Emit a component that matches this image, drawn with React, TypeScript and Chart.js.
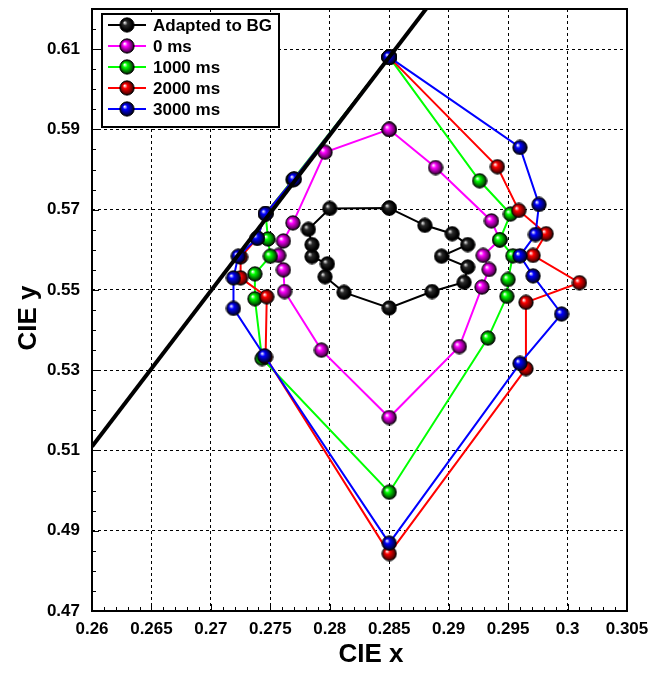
import React, { useEffect, useRef } from "react";
import { Chart, registerables } from "chart.js";

Chart.register(...registerables);

// ---- data ----
const xTickValues = [0.26, 0.265, 0.27, 0.275, 0.28, 0.285, 0.29, 0.295, 0.3, 0.305];
const yTickValues = [0.47, 0.49, 0.51, 0.53, 0.55, 0.57, 0.59, 0.61];

const seriesLabels = ["Adapted to BG", "0 ms", "1000 ms", "2000 ms", "3000 ms"];

const bgX = [0.285, 0.288, 0.2903, 0.2916, 0.2894, 0.2916, 0.2913, 0.2886, 0.285, 0.2812, 0.2796, 0.2798, 0.2785, 0.2785, 0.2782, 0.28];
const bgY = [0.5704, 0.5661, 0.564, 0.5613, 0.5584, 0.5557, 0.5519, 0.5496, 0.5455, 0.5494, 0.5533, 0.5565, 0.5583, 0.5613, 0.5651, 0.5703];

const ms0X = [0.285, 0.2889, 0.2936, 0.2943, 0.2929, 0.2934, 0.2928, 0.2909, 0.285, 0.2793, 0.2762, 0.2761, 0.2757, 0.2761, 0.2769, 0.2796];
const ms0Y = [0.59, 0.5805, 0.5672, 0.5625, 0.5586, 0.5551, 0.5507, 0.5359, 0.5182, 0.535, 0.5496, 0.555, 0.5586, 0.5622, 0.5667, 0.5843];

const ms1000X = [0.285, 0.2926, 0.2952, 0.2943, 0.2954, 0.295, 0.2949, 0.2933, 0.285, 0.2743, 0.2737, 0.2737, 0.275, 0.2748, 0.2746, 0.2769];
const ms1000Y = [0.608, 0.5772, 0.5689, 0.5625, 0.5585, 0.5526, 0.5484, 0.538, 0.4996, 0.5329, 0.5478, 0.554, 0.5584, 0.5627, 0.569, 0.5775];

const ms2000X = [0.285, 0.2941, 0.2959, 0.2982, 0.2971, 0.301, 0.2965, 0.2965, 0.285, 0.2746, 0.2747, 0.2725, 0.2725, 0.2739, 0.2746, 0.277];
const ms2000Y = [0.608, 0.5807, 0.5698, 0.564, 0.5586, 0.5518, 0.5469, 0.5304, 0.4843, 0.5333, 0.5483, 0.553, 0.5582, 0.5629, 0.569, 0.5776];

const ms3000X = [0.285, 0.296, 0.2976, 0.2973, 0.296, 0.2971, 0.2995, 0.296, 0.285, 0.2745, 0.2719, 0.2719, 0.2723, 0.2739, 0.2746, 0.277];
const ms3000Y = [0.608, 0.5855, 0.5713, 0.5638, 0.5585, 0.5535, 0.544, 0.5317, 0.4869, 0.5336, 0.5454, 0.553, 0.5584, 0.5629, 0.569, 0.5776];

const locusX = [0.26, 0.29];
const locusY = [0.511, 0.6274];

// ---- styles ----
const colors = ["#000000", "#ff00ff", "#00ff00", "#ff0000", "#0000ff"];
const darkColors = ["#000000", "#6a006a", "#005a00", "#6a0000", "#00005a"];
const midColors = ["#2a2a2a", "#ff00ff", "#00ff00", "#ff0000", "#0000ff"];
const highlight = ["#e8e8e8", "#ffffff", "#ffffff", "#ffffff", "#ffffff"];

const FONT = '"Liberation Sans", Arial, sans-serif';

function makeSphere(i: number): HTMLCanvasElement {
  const s = 16;
  const c = document.createElement("canvas");
  c.width = s;
  c.height = s;
  const ctx = c.getContext("2d")!;
  const cx = s / 2, cy = s / 2, r = 7.2;
  const g = ctx.createRadialGradient(cx - 2.5, cy - 2.5, 0.3, cx, cy, r);
  g.addColorStop(0, highlight[i]);
  g.addColorStop(0.3, midColors[i]);
  g.addColorStop(0.8, darkColors[i]);
  g.addColorStop(1, "#000000");
  ctx.beginPath();
  ctx.arc(cx, cy, r, 0, Math.PI * 2);
  ctx.fillStyle = g;
  ctx.fill();
  ctx.lineWidth = 1;
  ctx.strokeStyle = "rgba(0,0,0,0.85)";
  ctx.stroke();
  return c;
}

function closed(xs: number[], ys: number[]) {
  const pts = xs.map((x, k) => ({ x, y: ys[k] }));
  pts.push({ x: xs[0], y: ys[0] });
  return pts;
}

const fmt = (v: number) => String(Number(v.toFixed(3)));

export default function App() {
  const ref = useRef<HTMLCanvasElement>(null);

  useEffect(() => {
    const spheres = colors.map((_, i) => makeSphere(i));
    const seriesX = [bgX, ms0X, ms1000X, ms2000X, ms3000X];
    const seriesY = [bgY, ms0Y, ms1000Y, ms2000Y, ms3000Y];

    const datasets: any[] = seriesLabels.map((label, i) => ({
      label,
      data: closed(seriesX[i], seriesY[i]),
      showLine: true,
      borderColor: colors[i],
      borderWidth: 2,
      pointStyle: spheres[i],
      pointRadius: 7,
      pointHoverRadius: 7,
      tension: 0,
      order: 5 - i,
    }));
    datasets.push({
      label: "",
      data: locusX.map((x, k) => ({ x, y: locusY[k] })),
      showLine: true,
      borderColor: "#000000",
      borderWidth: 4,
      pointRadius: 0,
      tension: 0,
      order: 0,
    });

    const framePlugin = {
      id: "frameAndExtras",
      afterDraw(chart: any) {
        const { ctx, chartArea: a, scales } = chart;
        const xs = scales.x, ys = scales.y;
        ctx.save();
        // minor / major ticks
        ctx.strokeStyle = "#000";
        ctx.lineWidth = 1;
        for (let k = 0; k <= 45; k++) {
          const v = 0.26 + k * 0.001;
          const px = Math.round(xs.getPixelForValue(v)) + 0.5;
          const len = k % 5 === 0 ? 7 : 4;
          ctx.beginPath();
          ctx.moveTo(px, a.bottom);
          ctx.lineTo(px, a.bottom - len);
          ctx.stroke();
        }
        for (let k = 0; k <= 30; k++) {
          const v = 0.47 + k * 0.005;
          const py = Math.round(ys.getPixelForValue(v)) + 0.5;
          const len = k % 4 === 0 ? 7 : 4;
          ctx.beginPath();
          ctx.moveTo(a.left, py);
          ctx.lineTo(a.left + len, py);
          ctx.stroke();
        }
        // frame
        ctx.lineWidth = 2;
        ctx.strokeRect(a.left, a.top, a.right - a.left, a.bottom - a.top);

        // legend
        const lx = 102, ly = 14, lw = 177, lh = 113;
        ctx.fillStyle = "#fff";
        ctx.fillRect(lx, ly, lw, lh);
        ctx.lineWidth = 2;
        ctx.strokeStyle = "#000";
        ctx.strokeRect(lx, ly, lw, lh);
        ctx.font = `bold 17px ${FONT}`;
        ctx.textBaseline = "middle";
        ctx.textAlign = "left";
        seriesLabels.forEach((label, i) => {
          const y = 25 + i * 21;
          ctx.strokeStyle = colors[i];
          ctx.lineWidth = 2;
          ctx.beginPath();
          ctx.moveTo(108, y);
          ctx.lineTo(146, y);
          ctx.stroke();
          ctx.drawImage(spheres[i], 127 - 8, y - 8);
          ctx.fillStyle = "#000";
          ctx.fillText(label, 153, y + 1);
        });

        // axis titles
        ctx.fillStyle = "#000";
        ctx.font = `bold 26px ${FONT}`;
        ctx.textAlign = "center";
        ctx.textBaseline = "middle";
        ctx.fillText("CIE x", 371, 655);
        ctx.save();
        ctx.translate(29, 318);
        ctx.rotate(-Math.PI / 2);
        ctx.fillText("CIE y", 0, 0);
        ctx.restore();
        ctx.restore();
      },
    };

    const chart = new Chart(ref.current!, {
      type: "scatter",
      data: { datasets },
      options: {
        animation: false,
        responsive: false,
        events: [],
        layout: { padding: { top: 8, right: 24, bottom: 0, left: 0 } },
        plugins: { legend: { display: false }, tooltip: { enabled: false } },
        scales: {
          x: {
            type: "linear",
            min: 0.26,
            max: 0.305,
            afterBuildTicks: (s: any) => {
              s.ticks = xTickValues.map((v) => ({ value: v }));
            },
            afterFit: (s: any) => {
              s.height = 62;
              s.paddingLeft = 0;
              s.paddingRight = 0;
            },
            ticks: {
              autoSkip: false,
              maxRotation: 0,
              padding: 8,
              color: "#000",
              font: { family: FONT, size: 17, weight: "bold" },
              callback: (v: any) => fmt(Number(v)),
            },
            grid: { color: "#000", lineWidth: 1, drawTicks: false },
            border: { display: false, dash: [3, 3] },
          },
          y: {
            type: "linear",
            min: 0.47,
            max: 0.62,
            afterBuildTicks: (s: any) => {
              s.ticks = yTickValues.map((v) => ({ value: v }));
            },
            afterFit: (s: any) => {
              s.width = 92;
              s.paddingTop = 0;
              s.paddingBottom = 0;
            },
            ticks: {
              autoSkip: false,
              padding: 12,
              color: "#000",
              font: { family: FONT, size: 17, weight: "bold" },
              callback: (v: any) => fmt(Number(v)),
            },
            grid: { color: "#000", lineWidth: 1, drawTicks: false },
            border: { display: false, dash: [3, 3] },
          },
        },
      },
      plugins: [framePlugin],
    });
    return () => chart.destroy();
  }, []);

  return (
    <div style={{ position: "fixed", left: 0, top: 0, width: 651, height: 673, background: "#fff" }}>
      <canvas ref={ref} width={651} height={673} style={{ display: "block" }} />
    </div>
  );
}
